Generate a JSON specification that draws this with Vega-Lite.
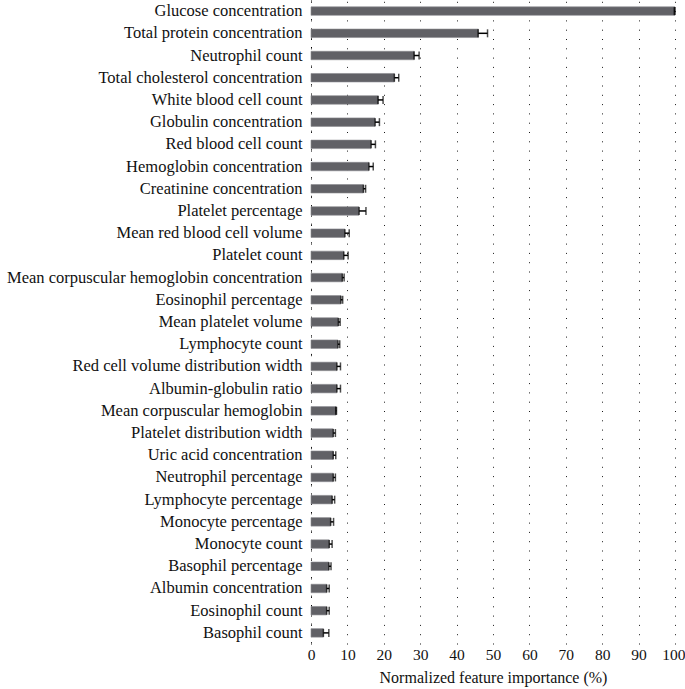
{
  "$schema": "https://vega.github.io/schema/vega-lite/v6.json",
  "autosize": {"type": "none"},
  "padding": {"left": 311, "top": 0, "right": 10, "bottom": 45},
  "width": 364,
  "height": 644,
  "background": "white",
  "config": {
    "view": {"stroke": null},
    "font": "Liberation Serif",
    "axisX": {
      "labelOverlap": false,
      "labelFont": "Liberation Serif",
      "labelFontSize": 15.5,
      "labelColor": "#111111",
      "labelPadding": 3,
      "labelFlush": false,
      "ticks": false,
      "domain": false,
      "grid": true,
      "gridColor": "#000000",
      "gridDash": [1, 8.3],
      "gridWidth": 1,
      "gridOpacity": 0.9,
      "titleFont": "Liberation Serif",
      "titleFontSize": 16,
      "titleFontWeight": "normal",
      "titleColor": "#111111",
      "titlePadding": 7
    }
  },
  "data": {
    "values": [
      {"feature": "Glucose concentration", "value": 100, "lo": 99.8, "hi": 100},
      {"feature": "Total protein concentration", "value": 46, "lo": 45.9, "hi": 48.5},
      {"feature": "Neutrophil count", "value": 28.4, "lo": 28.3, "hi": 29.7},
      {"feature": "Total cholesterol concentration", "value": 22.9, "lo": 22.9, "hi": 24.1},
      {"feature": "White blood cell count", "value": 18.5, "lo": 18.4, "hi": 19.8},
      {"feature": "Globulin concentration", "value": 17.6, "lo": 17.6, "hi": 18.8},
      {"feature": "Red blood cell count", "value": 16.5, "lo": 16.5, "hi": 17.7},
      {"feature": "Hemoglobin concentration", "value": 15.9, "lo": 15.9, "hi": 17.1},
      {"feature": "Creatinine concentration", "value": 14.4, "lo": 14.4, "hi": 15.0},
      {"feature": "Platelet percentage", "value": 13.2, "lo": 13.2, "hi": 15.1},
      {"feature": "Mean red blood cell volume", "value": 9.3, "lo": 9.3, "hi": 10.5},
      {"feature": "Platelet count", "value": 9.0, "lo": 9.0, "hi": 10.2},
      {"feature": "Mean corpuscular hemoglobin concentration", "value": 8.6, "lo": 8.6, "hi": 9.1},
      {"feature": "Eosinophil percentage", "value": 8.2, "lo": 8.2, "hi": 8.7},
      {"feature": "Mean platelet volume", "value": 7.5, "lo": 7.5, "hi": 8.0},
      {"feature": "Lymphocyte count", "value": 7.4, "lo": 7.4, "hi": 7.9},
      {"feature": "Red cell volume distribution width", "value": 7.1, "lo": 7.1, "hi": 8.1},
      {"feature": "Albumin-globulin ratio", "value": 7.1, "lo": 7.1, "hi": 8.1},
      {"feature": "Mean corpuscular hemoglobin", "value": 6.9, "lo": 6.8, "hi": 7.0},
      {"feature": "Platelet distribution width", "value": 6.1, "lo": 6.1, "hi": 6.7},
      {"feature": "Uric acid concentration", "value": 6.1, "lo": 6.1, "hi": 6.8},
      {"feature": "Neutrophil percentage", "value": 6.1, "lo": 6.1, "hi": 6.7},
      {"feature": "Lymphocyte percentage", "value": 5.8, "lo": 5.8, "hi": 6.5},
      {"feature": "Monocyte percentage", "value": 5.4, "lo": 5.4, "hi": 6.2},
      {"feature": "Monocyte count", "value": 5.0, "lo": 5.0, "hi": 5.8},
      {"feature": "Basophil percentage", "value": 4.9, "lo": 4.9, "hi": 5.5},
      {"feature": "Albumin concentration", "value": 4.3, "lo": 4.3, "hi": 5.0},
      {"feature": "Eosinophil count", "value": 4.3, "lo": 4.3, "hi": 5.0},
      {"feature": "Basophil count", "value": 3.4, "lo": 3.4, "hi": 4.9}
    ]
  },
  "encoding": {
    "y": {
      "field": "feature",
      "type": "nominal",
      "sort": null,
      "scale": {"paddingInner": 0, "paddingOuter": 0},
      "axis": {
        "title": null,
        "ticks": false,
        "domain": true,
        "domainColor": "#000000",
        "domainDash": [1, 8.3],
        "domainWidth": 1,
        "labelFont": "Liberation Serif",
        "labelFontSize": 16.5,
        "labelColor": "#111111",
        "labelPadding": 9,
        "labelLimit": 400,
        "grid": false
      }
    }
  },
  "layer": [
    {
      "mark": {"type": "bar", "size": 8.5, "color": "#616166", "stroke": "#8a8a8e", "strokeWidth": 0.6},
      "encoding": {
        "x": {
          "field": "value",
          "type": "quantitative",
          "scale": {"domain": [0, 100], "nice": false},
          "axis": {
            "title": "Normalized feature importance (%)",
            "values": [0, 10, 20, 30, 40, 50, 60, 70, 80, 90, 100],
            "labelAlign": {"expr": "datum.value == 100 ? 'right' : 'center'"},
            "labelOffset": {"expr": "datum.value == 100 ? 10 : 0"}
          }
        }
      }
    },
    {
      "mark": {"type": "rule", "color": "#000000", "strokeWidth": 1.5},
      "encoding": {
        "x": {
          "field": "lo",
          "type": "quantitative",
          "axis": {
            "title": "Normalized feature importance (%)",
            "values": [0, 10, 20, 30, 40, 50, 60, 70, 80, 90, 100],
            "labelAlign": {"expr": "datum.value == 100 ? 'right' : 'center'"},
            "labelOffset": {"expr": "datum.value == 100 ? 10 : 0"}
          }
        },
        "x2": {"field": "hi"}
      }
    },
    {
      "mark": {"type": "tick", "color": "#000000", "thickness": 1.5, "size": 8},
      "encoding": {
        "x": {
          "field": "lo",
          "type": "quantitative",
          "axis": {
            "title": "Normalized feature importance (%)",
            "values": [0, 10, 20, 30, 40, 50, 60, 70, 80, 90, 100],
            "labelAlign": {"expr": "datum.value == 100 ? 'right' : 'center'"},
            "labelOffset": {"expr": "datum.value == 100 ? 10 : 0"}
          }
        }
      }
    },
    {
      "mark": {"type": "tick", "color": "#000000", "thickness": 1.5, "size": 8},
      "encoding": {
        "x": {
          "field": "hi",
          "type": "quantitative",
          "axis": {
            "title": "Normalized feature importance (%)",
            "values": [0, 10, 20, 30, 40, 50, 60, 70, 80, 90, 100],
            "labelAlign": {"expr": "datum.value == 100 ? 'right' : 'center'"},
            "labelOffset": {"expr": "datum.value == 100 ? 10 : 0"}
          }
        }
      }
    }
  ]
}
